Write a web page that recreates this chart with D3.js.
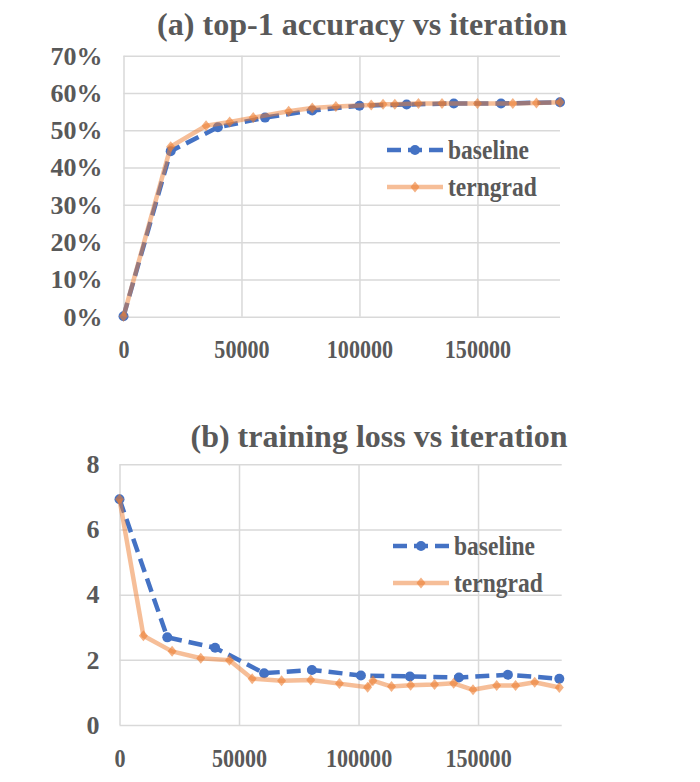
<!DOCTYPE html>
<html>
<head>
<meta charset="utf-8">
<script src="https://cdn.jsdelivr.net/npm/d3@7"></script>
<style>
  body { margin: 0; background: #fff; }
  svg { display: block; }
</style>
</head>
<body>
<svg id="chart" width="700" height="782"></svg>
<script>
// ---------- data ----------
const iterTicks = [0, 50000, 100000, 150000];
const accTicks = [0, 0.1, 0.2, 0.3, 0.4, 0.5, 0.6, 0.7];
const lossTicks = [0, 2, 4, 6, 8];
const seriesNames = ["baseline", "terngrad"];
const titles = ["(a) top-1 accuracy vs iteration", "(b) training loss vs iteration"];

const accBaselineIter = [0, 20000, 40000, 60000, 80000, 100000, 120000, 140000, 160000, 185000];
const accBaselineVal  = [0.001, 0.444, 0.508, 0.534, 0.553, 0.566, 0.569, 0.572, 0.572, 0.575];

const accTerngradIter = [0, 20000, 35000, 45000, 55000, 70000, 80000, 90000, 105000, 110000, 115000, 125000, 135000, 150000, 165000, 175000, 185000];
const accTerngradVal  = [0.001, 0.456, 0.512, 0.522, 0.534, 0.551, 0.560, 0.564, 0.568, 0.570, 0.570, 0.572, 0.572, 0.572, 0.572, 0.573, 0.575];

const lossBaselineIter = [0, 20000, 40000, 60500, 80500, 101000, 121500, 142000, 162500, 184000];
const lossBaselineVal  = [6.93, 2.69, 2.37, 1.59, 1.69, 1.52, 1.49, 1.46, 1.54, 1.42];

const lossTerngradIter = [0, 10000, 22000, 34000, 46000, 55500, 67800, 80000, 92000, 103800, 106000, 113800, 121800, 131800, 139800, 147900, 157800, 165700, 173700, 184000];
const lossTerngradVal  = [6.93, 2.74, 2.26, 2.05, 1.99, 1.42, 1.36, 1.38, 1.27, 1.16, 1.36, 1.18, 1.22, 1.24, 1.28, 1.08, 1.21, 1.21, 1.31, 1.15];

// ---------- style ----------
const blue = "#4472c4";
const orange = "#ed7d31";
const gridColor = "#d9d9d9";
const textColor = "#595959";
const FONT = "'Liberation Serif', 'Times New Roman', Tinos, 'DejaVu Serif', serif";

const svg = d3.select("#chart");
svg.append("rect").attr("width", 700).attr("height", 782).attr("fill", "#fff");

function zip(xs, ys) { return xs.map((x, i) => [x, ys[i]]); }

function styleText(sel, size) {
  sel.attr("font-family", FONT).attr("font-weight", "bold").attr("font-size", size)
     .attr("fill", textColor)
     .style("font-family", FONT).style("font-weight", "bold");
}
function squeeze(sel, k) {
  sel.each(function () {
    const L = this.getComputedTextLength();
    d3.select(this).attr("textLength", L * k).attr("lengthAdjust", "spacingAndGlyphs");
  });
}

function drawPanel(cfg) {
  const g = svg.append("g");
  const x = d3.scaleLinear().domain([0, 185000]).range([cfg.left, cfg.right]);
  const y = d3.scaleLinear().domain(cfg.yDomain).range([cfg.bottom, cfg.top]);
  const w = cfg.right - cfg.left, h = cfg.bottom - cfg.top;

  // y gridlines + labels
  const ya = g.append("g").attr("transform", `translate(${cfg.left},0)`)
    .call(d3.axisLeft(y).tickValues(cfg.yTicks).tickFormat(cfg.yFormat)
      .tickSizeInner(-w).tickSizeOuter(0).tickPadding(cfg.yPad));
  ya.select(".domain").remove();
  ya.selectAll(".tick line").attr("stroke", gridColor).attr("stroke-width", 1.5);
  ya.selectAll(".tick text").call(styleText, 26);

  // x gridlines + labels
  const xa = g.append("g").attr("transform", `translate(0,${cfg.bottom})`)
    .call(d3.axisBottom(x).tickValues(iterTicks).tickFormat(d3.format("d"))
      .tickSizeInner(-h).tickSizeOuter(0).tickPadding(cfg.xPad));
  xa.select(".domain").remove();
  xa.selectAll(".tick line").attr("stroke", gridColor).attr("stroke-width", 1.5);
  xa.selectAll(".tick text").call(styleText, 26).call(squeeze, 0.85);

  // title
  g.append("text").attr("x", cfg.titleX).attr("y", cfg.titleY)
    .attr("text-anchor", "middle")
    .call(styleText, 32)
    .attr("textLength", cfg.titleW).attr("lengthAdjust", "spacingAndGlyphs")
    .text(cfg.title);

  const line = d3.line().x(d => x(d[0])).y(d => y(d[1]));
  const diamond = "M0,-5.5L4.5,0L0,5.5L-4.5,0Z";

  // baseline
  g.append("path").datum(cfg.base).attr("d", line)
    .attr("fill", "none").attr("stroke", blue).attr("stroke-width", 4.5)
    .attr("stroke-dasharray", "14,7");
  g.selectAll(".bc").data(cfg.base).enter().append("circle")
    .attr("cx", d => x(d[0])).attr("cy", d => y(d[1])).attr("r", 5).attr("fill", blue);

  // terngrad
  g.append("path").datum(cfg.tern).attr("d", line)
    .attr("fill", "none").attr("stroke", orange).attr("stroke-opacity", 0.5)
    .attr("stroke-width", 4.5).attr("stroke-linejoin", "round");
  g.selectAll(".td").data(cfg.tern).enter().append("path")
    .attr("d", diamond).attr("transform", d => `translate(${x(d[0])},${y(d[1])})`)
    .attr("fill", orange).attr("fill-opacity", 0.6);

  // legend
  const lg = g.append("g");
  const lx0 = cfg.legX, lx1 = cfg.legX + 56, lmid = (lx0 + lx1) / 2;
  lg.append("line").attr("x1", lx0).attr("x2", lx1).attr("y1", cfg.legY).attr("y2", cfg.legY)
    .attr("stroke", blue).attr("stroke-width", 4.5).attr("stroke-dasharray", "14,7");
  lg.append("circle").attr("cx", lmid).attr("cy", cfg.legY).attr("r", 5).attr("fill", blue);
  lg.append("text").attr("x", lx1 + 5).attr("y", cfg.legY).attr("dy", "0.32em")
    .call(styleText, 27).text(seriesNames[0]).call(squeeze, 0.87);
  const ly2 = cfg.legY + 37;
  lg.append("line").attr("x1", lx0).attr("x2", lx1).attr("y1", ly2).attr("y2", ly2)
    .attr("stroke", orange).attr("stroke-opacity", 0.5).attr("stroke-width", 4.5);
  lg.append("path").attr("d", diamond).attr("transform", `translate(${lmid},${ly2})`)
    .attr("fill", orange).attr("fill-opacity", 0.6);
  lg.append("text").attr("x", lx1 + 5).attr("y", ly2).attr("dy", "0.32em")
    .call(styleText, 27).text(seriesNames[1]).call(squeeze, 0.87);
}

drawPanel({
  left: 123.5, right: 560, top: 55.7, bottom: 316.7,
  yDomain: [0, 0.7], yTicks: accTicks, yFormat: d3.format(".0%"),
  yPad: 21, xPad: 23,
  title: titles[0], titleX: 362, titleY: 35, titleW: 410,
  base: zip(accBaselineIter, accBaselineVal),
  tern: zip(accTerngradIter, accTerngradVal),
  legX: 387, legY: 150
});

drawPanel({
  left: 119.5, right: 561.7, top: 464.3, bottom: 725,
  yDomain: [0, 8], yTicks: lossTicks, yFormat: d3.format("d"),
  yPad: 20, xPad: 24,
  title: titles[1], titleX: 379, titleY: 447, titleW: 377,
  base: zip(lossBaselineIter, lossBaselineVal),
  tern: zip(lossTerngradIter, lossTerngradVal),
  legX: 393, legY: 546
});
</script>
</body>
</html>
